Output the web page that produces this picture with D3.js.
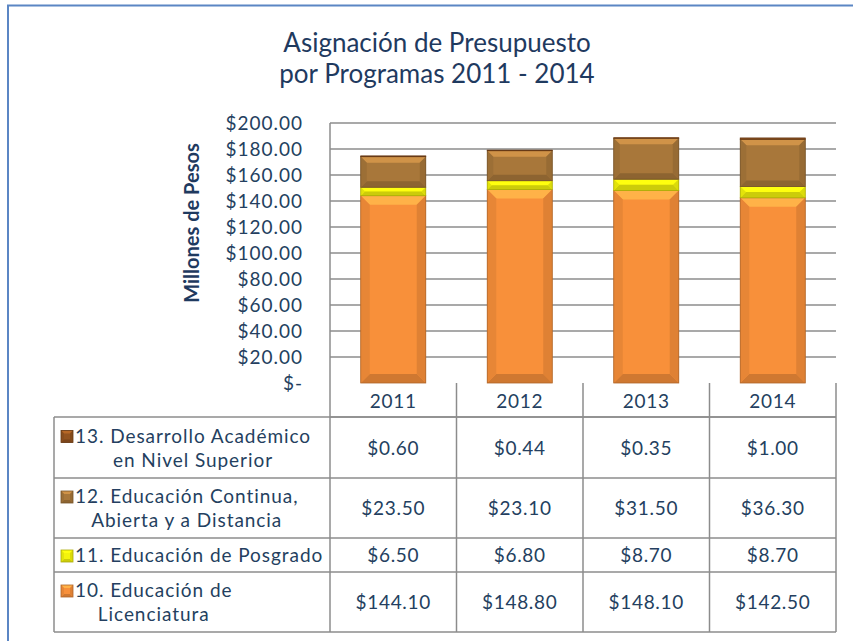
<!DOCTYPE html>
<html>
<head>
<meta charset="utf-8">
<script src="https://cdn.jsdelivr.net/npm/d3@7"></script>
<style>
  body { margin: 0; background: #fff; }
  svg text { font-family: Lato, "Noto Sans", sans-serif; fill: #243f60; }
</style>
</head>
<body>
<div id="chart"></div>
<script>

var years = ["2011", "2012", "2013", "2014"];
var prog10 = [144.10, 148.80, 148.10, 142.50];
var prog11 = [6.50, 6.80, 8.70, 8.70];
var prog12 = [23.50, 23.10, 31.50, 36.30];
var prog13 = [0.60, 0.44, 0.35, 1.00];
var yTicks = [0, 20, 40, 60, 80, 100, 120, 140, 160, 180, 200];

// stack order is bottom to top: 10, 11, 12, 13
var seriesLines = [["10. Educación de", "Licenciatura"], ["11. Educación de Posgrado"],
  ["12. Educación Continua,", "Abierta y a Distancia"], ["13. Desarrollo Académico", "en Nivel Superior"]];
var seriesVals = [prog10, prog11, prog12, prog13];
var colors = ["#f8903a", "#f4f40c", "#a8773a", "#93531f"];

var W = 853, H = 641;
var svg = d3.select("#chart").append("svg").attr("width", W).attr("height", H);

// blue frame
svg.append("rect").attr("x", 8).attr("y", 5.5).attr("width", W).attr("height", H)
  .attr("fill", "none").attr("stroke", "#5b86c4").attr("stroke-width", 2);

// title
svg.append("text").attr("x", 437).attr("y", 52).attr("text-anchor", "middle")
  .style("font-size", "26px").style("fill", "#1f3a5f").text("Asignación de Presupuesto");
svg.append("text").attr("x", 437).attr("y", 83).attr("text-anchor", "middle")
  .style("font-size", "26px").style("fill", "#1f3a5f").text("por Programas 2011 - 2014");

var plotL = 330, plotR = 836, plotT = 123, plotB = 383;
var x = d3.scaleBand().domain(years).range([plotL, plotR]).paddingInner(0.486).paddingOuter(0.243);
var y = d3.scaleLinear().domain([0, 200]).range([plotB, plotT]);

// gridlines
svg.append("g").selectAll("line").data(yTicks.slice(1)).enter().append("line")
  .attr("x1", plotL).attr("x2", plotR)
  .attr("y1", function (d) { return y(d); }).attr("y2", function (d) { return y(d); })
  .attr("stroke", "#8c8c8c").attr("stroke-width", 1.5);
svg.append("line").attr("x1", plotL).attr("x2", plotL).attr("y1", plotT).attr("y2", plotB)
  .attr("stroke", "#8c8c8c").attr("stroke-width", 1.5);

// y axis labels
svg.append("g").selectAll("text").data(yTicks).enter().append("text")
  .attr("x", 303).attr("y", function (d) { return y(d) + 7; })
  .attr("text-anchor", "end").style("font-size", "19px").style("letter-spacing", "1px")
  .text(function (d) { return d === 0 ? "$-" : "$" + d.toFixed(2); });

svg.append("text").attr("transform", "translate(199,223) rotate(-90)")
  .attr("text-anchor", "middle").style("font-size", "20px").style("font-weight", "bold")
  .style("fill", "#1f3a5f").text("Millones de Pesos");

// bevelled box
function bevel(g, bx, by, bw, bh, color, size) {
  var b = Math.min(size, bh / 2, bw / 2);
  var c = d3.color(color);
  g.append("rect").attr("x", bx).attr("y", by).attr("width", bw).attr("height", bh)
    .attr("fill", color);
  var pts = [
    [[bx, by], [bx + bw, by], [bx + bw - b, by + b], [bx + b, by + b], c.brighter(0.6)],
    [[bx, by + bh], [bx + bw, by + bh], [bx + bw - b, by + bh - b], [bx + b, by + bh - b], c.darker(0.5)],
    [[bx, by], [bx + b, by + b], [bx + b, by + bh - b], [bx, by + bh], c.darker(0.2)],
    [[bx + bw, by], [bx + bw - b, by + b], [bx + bw - b, by + bh - b], [bx + bw, by + bh], c.darker(0.3)]
  ];
  pts.forEach(function (p) {
    g.append("polygon").attr("points", p.slice(0, 4).map(function (q) { return q.join(","); }).join(" "))
      .attr("fill", p[4]);
  });
  g.append("rect").attr("x", bx).attr("y", by).attr("width", bw).attr("height", bh)
    .attr("fill", "none").attr("stroke", c.darker(1)).attr("stroke-width", 0.8);
}

// stacked bars
var bars = svg.append("g");
years.forEach(function (yr, i) {
  var base = 0;
  seriesVals.forEach(function (vals, s) {
    var v = vals[i];
    var y0 = y(base), y1 = y(base + v);
    bevel(bars, x(yr), y1, x.bandwidth(), y0 - y1, colors[s], s === 0 ? 9 : 6);
    base += v;
  });
});

// data table
var tblL = 54;
var rowEdges = [383, 417, 478, 538, 572, 632];
var colEdges = [plotL].concat(years.map(function (yr) { return x(yr) - x.step() * x.paddingOuter() + x.step(); }));
var tbl = svg.append("g");
var gridC = "#8c8c8c";

tbl.append("line").attr("x1", plotL).attr("x2", plotR).attr("y1", rowEdges[1]).attr("y2", rowEdges[1])
  .attr("stroke", gridC).attr("stroke-width", 1.5);
colEdges.forEach(function (cx) {
  tbl.append("line").attr("x1", cx).attr("x2", cx).attr("y1", rowEdges[0]).attr("y2", rowEdges[5])
    .attr("stroke", gridC).attr("stroke-width", 1.5);
});
rowEdges.slice(1).forEach(function (ry) {
  tbl.append("line").attr("x1", tblL).attr("x2", plotR).attr("y1", ry).attr("y2", ry)
    .attr("stroke", gridC).attr("stroke-width", 1.5);
});
tbl.append("line").attr("x1", tblL).attr("x2", tblL).attr("y1", rowEdges[1]).attr("y2", rowEdges[5])
  .attr("stroke", gridC).attr("stroke-width", 1.5);

// year headers
years.forEach(function (yr) {
  tbl.append("text").attr("x", x(yr) + x.bandwidth() / 2).attr("y", 408)
    .attr("text-anchor", "middle").style("font-size", "19px").style("letter-spacing", "0.7px").text(yr);
});

// rows, top to bottom: 13, 12, 11, 10
[3, 2, 1, 0].forEach(function (s, r) {
  var top = rowEdges[r + 1], bot = rowEdges[r + 2], mid = (top + bot) / 2;
  var lines = seriesLines[s];
  var lh = 24;
  var firstY = mid - (lines.length - 1) * lh / 2 + 7;
  bevel(tbl, 61, firstY - 12, 12, 12, colors[s], 3);
  var first = tbl.append("text").attr("x", 75).attr("y", firstY).style("font-size", "19px")
    .style("letter-spacing", "0.95px").text(lines[0]);
  var centre = 75 + first.node().getComputedTextLength() / 2;
  lines.slice(1).forEach(function (ln, k) {
    tbl.append("text").attr("x", centre).attr("y", firstY + (k + 1) * lh)
      .attr("text-anchor", "middle").style("font-size", "19px")
      .style("letter-spacing", "0.95px").text(ln);
  });
  years.forEach(function (yr, i) {
    tbl.append("text").attr("x", x(yr) + x.bandwidth() / 2).attr("y", mid + 7)
      .attr("text-anchor", "middle").style("font-size", "19px").style("letter-spacing", "0.7px")
      .text("$" + seriesVals[s][i].toFixed(2));
  });
});

</script>
</body>
</html>
